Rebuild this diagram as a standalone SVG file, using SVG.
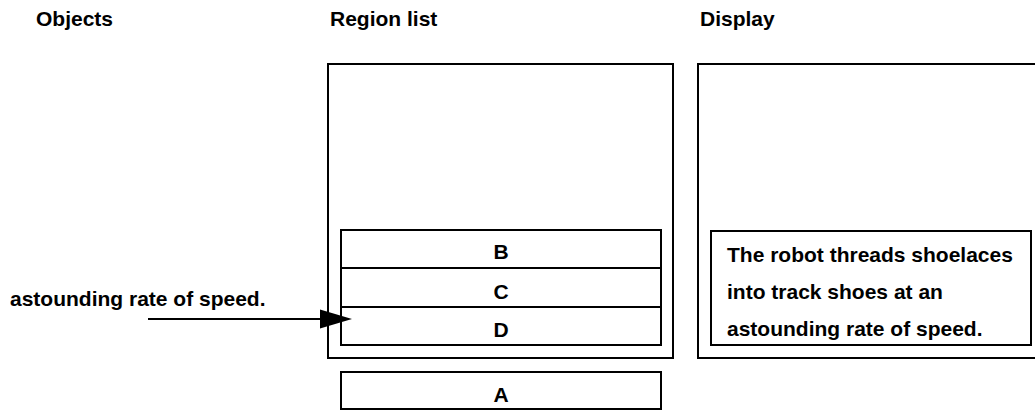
<svg xmlns="http://www.w3.org/2000/svg" width="1035" height="412" viewBox="0 0 1035 412">
<style>
text{font-family:"Liberation Sans",Arial,sans-serif;font-weight:bold;font-size:21px;fill:#000}
.box{fill:#fff;stroke:#000;stroke-width:2}
.c{text-anchor:middle}
</style>
<rect x="0" y="0" width="1035" height="412" fill="#fff"/>
<g id="headers">
<text x="36" y="26">Objects</text>
<text x="330" y="26">Region list</text>
<text x="700" y="26">Display</text>
</g>
<g id="region-list">
<rect class="box" x="328" y="64" width="345" height="294"/>
</g>
<g id="node-B"><rect class="box" x="341" y="230" width="320" height="38"/><text class="c" x="501" y="259">B</text></g>
<g id="node-C"><rect class="box" x="341" y="268" width="320" height="39"/><text class="c" x="501" y="299">C</text></g>
<g id="node-D"><rect class="box" x="341" y="307" width="320" height="38"/><text class="c" x="501" y="337">D</text></g>
<g id="node-A"><rect class="box" x="341" y="372" width="320" height="37"/><text class="c" x="501" y="402">A</text></g>
<g id="display">
<rect class="box" x="698" y="64" width="345" height="294"/>
</g>
<g id="display-text">
<rect class="box" x="711" y="231" width="320" height="114"/>
<text x="727" y="262">The robot threads shoelaces</text>
<text x="727" y="299">into track shoes at an</text>
<text x="727" y="336">astounding rate of speed.</text>
</g>
<g id="object">
<text x="10" y="306">astounding rate of speed.</text>
</g>
<g id="connectors">
<line x1="148" y1="319" x2="322" y2="319" stroke="#000" stroke-width="2"/>
<polygon points="320,309.5 352,319 320,328.5" fill="#000"/>
</g>
</svg>
